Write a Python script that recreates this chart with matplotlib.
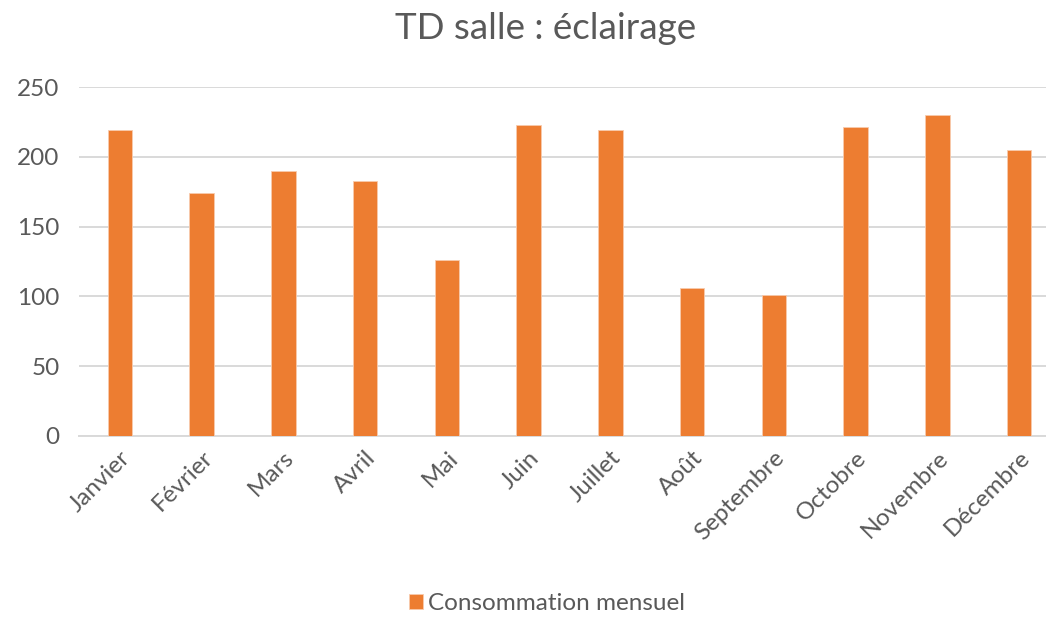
import matplotlib.pyplot as plt

mois = ['Janvier', 'Février', 'Mars', 'Avril', 'Mai', 'Juin', 'Juillet',
        'Août', 'Septembre', 'Octobre', 'Novembre', 'Décembre']
consommation = [219, 174, 190, 183, 126, 223, 219, 106, 101, 221, 230, 205]
yticks = [0, 50, 100, 150, 200, 250]
serie = 'Consommation mensuel'
titre = 'TD salle : éclairage'

plt.rcParams['font.family'] = ['Lato', 'DejaVu Sans']
grey = '#595959'

fig = plt.figure(figsize=(10.46, 6.17), dpi=100)
# plot area slightly wider than the picture, cut on the right like the original
ax = fig.add_axes([79 / 1046, 1 - 436 / 617, 981 / 1046, 349 / 617])

x = range(len(mois))
ax.bar(x, consommation, width=0.3, color='#ED7D31', edgecolor='#F8CBAD',
       linewidth=0.6, label=serie, zorder=3)

ax.set_xlim(-0.5, len(mois) - 0.5)
ax.set_ylim(0, 250)
ax.set_yticks(yticks)
ax.yaxis.grid(True, color='#D9D9D9', linewidth=1.4, zorder=0)
ax.set_xticks(list(x))
ax.set_xticklabels(mois, rotation=45, ha='right', rotation_mode='anchor')
ax.tick_params(axis='both', length=0, labelsize=17.5, labelcolor=grey)
ax.tick_params(axis='y', pad=14)
ax.tick_params(axis='x', pad=8)
for s in ['top', 'right', 'left']:
    ax.spines[s].set_visible(False)
ax.spines['bottom'].set_color('#D9D9D9')
ax.spines['bottom'].set_linewidth(1.4)

fig.text(0.522, 0.953, titre, ha='center', va='center', fontsize=26.5, color=grey)

fig.legend(loc='center', bbox_to_anchor=(0.523, 0.022), frameon=False,
           fontsize=17.5, labelcolor=grey, handlelength=0.6, handleheight=0.6,
           handletextpad=0.2)

fig.savefig('out.png', dpi=100)
